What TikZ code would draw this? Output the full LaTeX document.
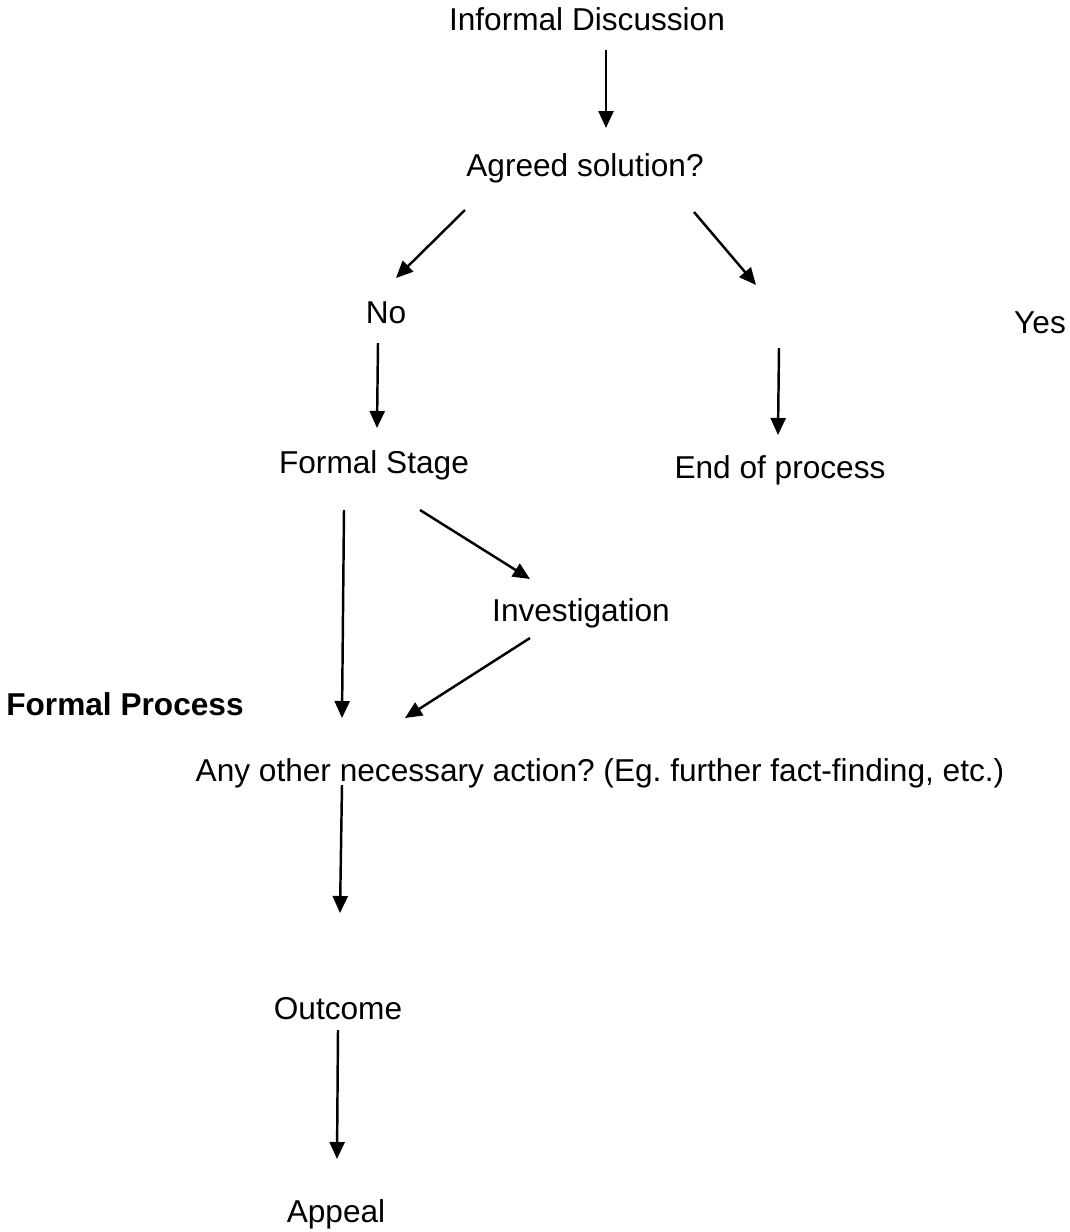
\documentclass[tikz,border=0pt]{standalone}
\usepackage{fontspec}
\setmainfont{Liberation Sans}
\usetikzlibrary{arrows.meta,calc}
\frenchspacing

\begin{document}
\begin{tikzpicture}[x=0.02cm,y=-0.02cm,
    every node/.style={inner sep=0pt,anchor=base,font=\fontsize{18}{22}\selectfont},
    flow/.style={-{Triangle[length=0.34cm,width=0.30cm]},line width=1.4pt}]
      % \draw[help lines](0,0) grid[step=100] (1070,1232);
      \useasboundingbox (0,0) rectangle (1070,1232);

      \draw (587,30) node (disc) {Informal Discussion};
      \draw (585,176) node (agreed) {Agreed solution?};
      \draw (386,323) node (no) {No};
      \draw (1040,333) node (yes) {Yes};
      \draw (374,473) node (formal) {Formal Stage};
      \draw (780,478) node (endproc) {End of process};
      \draw (581,621) node (invest) {Investigation};
      \draw (125,715) node (fproc) {\bfseries Formal Process};
      \draw (600,781) node (action) {Any other necessary action? (Eg. further fact-finding, etc.)};
      \draw (338,1019) node (outcome) {Outcome};
      \draw (336,1222) node (appeal) {Appeal};

      \draw[flow] ($(disc.base)+(19,20)$) -- ($(agreed.base)+(21,-48)$);
      \draw[flow] ($(agreed.base)+(-120,34)$) -- ($(no.base)+(10,-45)$);
      \draw[flow] ($(agreed.base)+(109,36)$) -- ($(yes.base)+(-284,-48)$);
      \draw[flow] ($(no.base)+(-8,20)$) -- ($(formal.base)+(3,-45)$);
      \draw[flow] ($(yes.base)+(-261,15)$) -- ($(endproc.base)+(-2,-43)$);
      \draw[flow] ($(formal.base)+(-30,37)$) -- ($(action.base)+(-258,-63)$);
      \draw[flow] ($(formal.base)+(46,37)$) -- ($(invest.base)+(-51,-42)$);
      \draw[flow] ($(invest.base)+(-51,17)$) -- ($(action.base)+(-195,-63)$);
      \draw[flow] ($(action.base)+(-258,4)$) -- ($(outcome.base)+(2,-106)$);
      \draw[flow] ($(outcome.base)+(0,11)$) -- ($(appeal.base)+(1,-63)$);
\end{tikzpicture}
\end{document}
